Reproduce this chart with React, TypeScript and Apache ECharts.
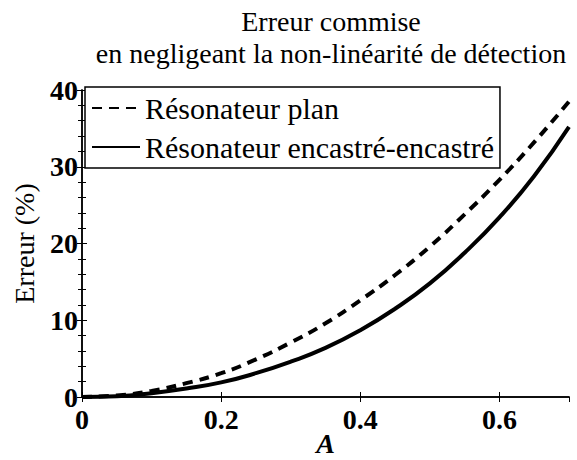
import React, { useEffect, useRef } from "react";
import * as echarts from "echarts";

const titleLines = ["Erreur commise", "en negligeant la non-linéarité de détection"];
const xName = "A";
const yName = "Erreur (%)";
const seriesNames = ["Résonateur plan", "Résonateur encastré-encastré"];
const amplitude = [0, 0.05, 0.1, 0.15, 0.2, 0.25, 0.3, 0.35, 0.4, 0.45, 0.5, 0.55, 0.6, 0.65, 0.7];
const planError = [0, 0.2, 0.8, 1.8, 3.1, 4.9, 7.1, 9.6, 12.6, 15.9, 19.6, 23.8, 28.3, 33.2, 38.5];
const encastreError = [0, 0.1, 0.5, 1.1, 1.9, 3.1, 4.6, 6.4, 8.7, 11.5, 14.8, 18.8, 23.4, 28.8, 35.2];

const FONT = "Liberation Serif";

export default function App() {
  const ref = useRef<HTMLDivElement>(null);
  useEffect(() => {
    if (!ref.current) return;
    const chart = echarts.init(ref.current, null, { renderer: "svg" });
    const fmt = (v: number) => (Math.abs(v) < 1e-9 ? "0" : String(Math.round(v * 100) / 100));
    const axisLine = { show: true, lineStyle: { color: "#000", width: 1.5 } };
    const tick = { show: true, inside: true, length: 5, lineStyle: { color: "#000", width: 1 } };
    const minor = { show: true, splitNumber: 5, length: 4, lineStyle: { color: "#000", width: 1 } };
    chart.setOption({
      animation: false,
      backgroundColor: "#fff",
      textStyle: { fontFamily: FONT },
      title: {
        text: titleLines.join("\n"),
        left: 326,
        textAlign: "center",
        top: 0,
        textStyle: { fontFamily: FONT, fontSize: 28, fontWeight: "normal", color: "#000", lineHeight: 32 },
      },
      legend: {
        orient: "vertical",
        left: 85,
        top: 87,
        itemWidth: 48,
        itemHeight: 14,
        itemGap: 9,
        padding: 6,
        borderColor: "#000",
        borderWidth: 1.5,
        backgroundColor: "#fff",
        borderRadius: 0,
        itemStyle: { opacity: 0 },
        textStyle: { fontFamily: FONT, fontSize: 30, color: "#000" },
        data: seriesNames,
      },
      grid: { left: 82, right: 8, top: 90, bottom: 63, containLabel: false, outerBoundsMode: "none" },
      xAxis: [
        {
          type: "value",
          min: 0,
          max: 0.7,
          interval: 0.2,
          name: xName,
          nameLocation: "middle",
          nameGap: 32,
          nameMoveOverlap: false,
          nameTextStyle: {
            fontFamily: FONT,
            fontSize: 28,
            lineHeight: 28,
            fontStyle: "italic",
            fontWeight: "bold",
            color: "#000",
          },
          axisLine,
          axisTick: tick,
          axisLabel: {
            showMaxLabel: false,
            margin: 8,
            formatter: fmt,
            fontFamily: FONT,
            fontSize: 28,
            fontWeight: "bold",
            color: "#000",
          },
          splitLine: { show: false },
        },
        {
          type: "value",
          position: "top",
          min: 0,
          max: 0.7,
          interval: 0.2,
          axisLine,
          axisTick: tick,
          axisLabel: { show: false },
          splitLine: { show: false },
        },
      ],
      yAxis: [
        {
          type: "value",
          min: 0,
          max: 40,
          interval: 10,
          name: yName,
          nameLocation: "middle",
          nameGap: 44,
          nameMoveOverlap: false,
          nameTextStyle: { fontFamily: FONT, fontSize: 28, color: "#000" },
          axisLine,
          axisTick: tick,
          minorTick: minor,
          axisLabel: { margin: 4, formatter: fmt, fontFamily: FONT, fontSize: 28, fontWeight: "bold", color: "#000" },
          splitLine: { show: false },
        },
        {
          type: "value",
          position: "right",
          min: 0,
          max: 40,
          interval: 10,
          axisLine,
          axisTick: tick,
          minorTick: minor,
          axisLabel: { show: false },
          splitLine: { show: false },
        },
      ],
      series: [
        {
          name: seriesNames[0],
          type: "line",
          smooth: true,
          symbol: "none",
          xAxisIndex: 0,
          yAxisIndex: 0,
          lineStyle: { color: "#000", width: 4, type: [10, 7] },
          itemStyle: { color: "#000" },
          data: amplitude.map((a, i) => [a, planError[i]]),
        },
        {
          name: seriesNames[1],
          type: "line",
          smooth: true,
          symbol: "none",
          xAxisIndex: 0,
          yAxisIndex: 0,
          lineStyle: { color: "#000", width: 4, type: "solid" },
          itemStyle: { color: "#000" },
          data: amplitude.map((a, i) => [a, encastreError[i]]),
        },
      ],
    });
    return () => chart.dispose();
  }, []);
  return (
    <div
      ref={ref}
      style={{ position: "fixed", left: 0, top: 0, width: 577, height: 460, background: "#fff" }}
    />
  );
}
